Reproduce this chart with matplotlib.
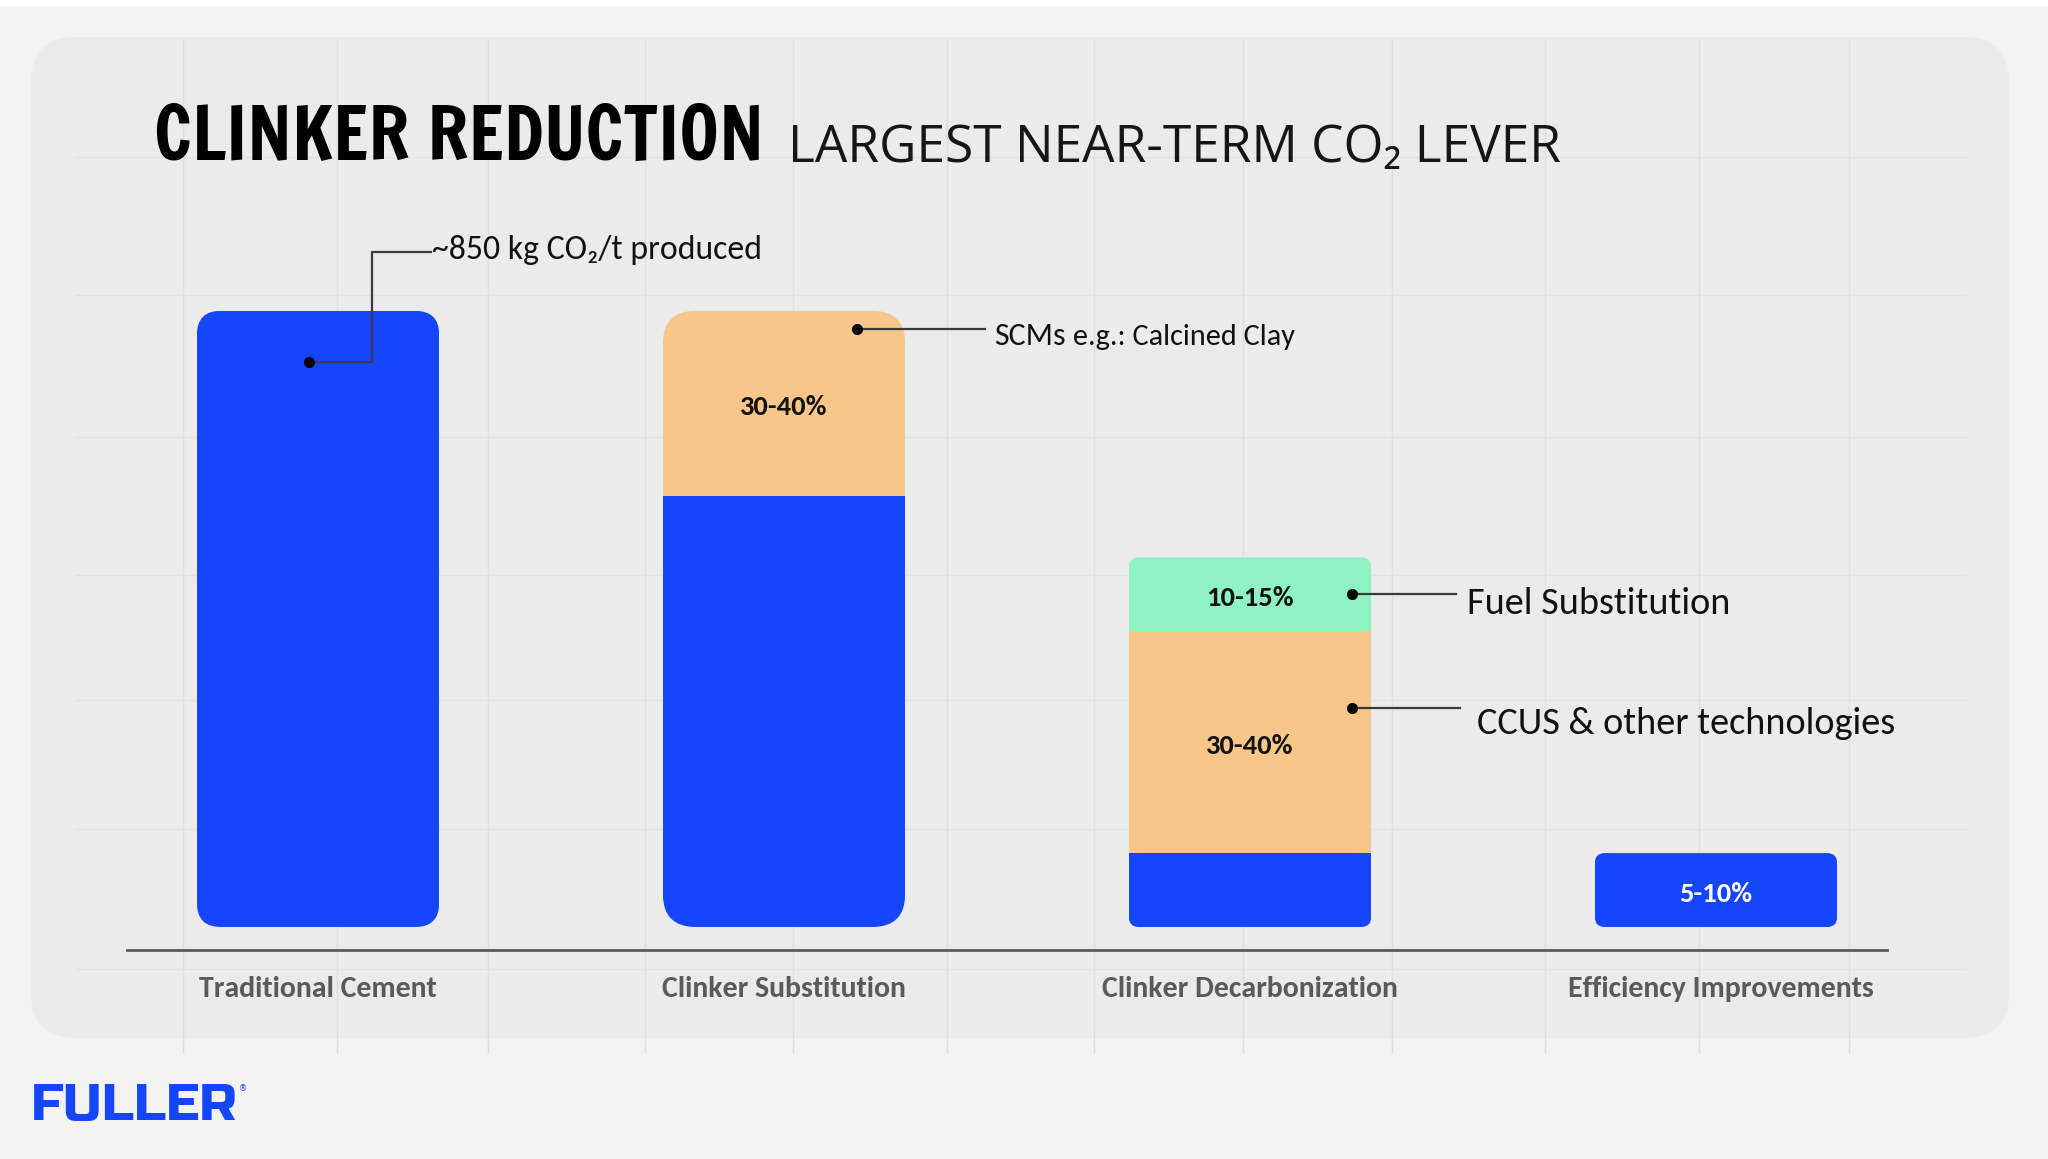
import matplotlib
matplotlib.use('Agg')
import matplotlib.pyplot as plt
from matplotlib.patches import FancyBboxPatch, Rectangle
import numpy as np

# ---------------- data ----------------
categories = ['Traditional Cement', 'Clinker Substitution',
              'Clinker Decarbonization', 'Efficiency Improvements']
clinker = [100, 70, 12, 12]     # blue segment (share of traditional emissions)
scm = [0, 30, 36, 0]            # orange segment
fuel = [0, 0, 12, 0]            # green segment
blue_labels = ['', '', '', '5-10%']
orange_labels = ['', '30-40%', '30-40%', '']
green_labels = ['', '', '10-15%', '']

BLUE = '#1646fb'
ORANGE = '#f8c689'
GREEN = '#8ff2c2'
BODY = ['Carlito', 'Lato', 'DejaVu Sans']

W, H = 2048, 1159
fig = plt.figure(figsize=(W / 100, H / 100), dpi=100, facecolor='#f3f3f4')

# ---------------- background decoration ----------------
bg = fig.add_axes([0, 0, 1, 1], zorder=0)
bg.set_xlim(0, W)
bg.set_ylim(H, 0)
bg.axis('off')
bg.add_patch(Rectangle((0, 0), W, 6, facecolor='white', edgecolor='none'))
bg.add_patch(FancyBboxPatch((31, 37), 1978, 1001,
                            boxstyle='round,pad=0,rounding_size=45',
                            facecolor='#ebebeb', edgecolor='none'))
for gx in [183, 337, 488, 645, 793, 947, 1094, 1243, 1392, 1545, 1699, 1849]:
    bg.plot([gx, gx], [40, 1052], color='#dedede', lw=1, zorder=1)
for gy in [157, 295, 437, 575, 700, 829, 969]:
    bg.plot([75, 1965], [gy, gy], color='#e2e2e2', lw=1, zorder=1)

bg.text(154, 160, 'CLINKER REDUCTION', fontsize=52.5,
        family=['Francois One', 'Anton', 'DejaVu Sans'], color='black',
        va='baseline', ha='left', zorder=3)
bg.text(788, 162, 'LARGEST NEAR-TERM CO₂ LEVER', fontsize=37,
        family=['Open Sans', 'DejaVu Sans'], color='#161616',
        va='baseline', ha='left', zorder=3)

logo = bg.text(31, 1120, 'FULLER', fontsize=37.5,
               family=['Russo One', 'Archivo Black', 'DejaVu Sans'], color=BLUE,
               va='baseline', ha='left', zorder=3)
bg.annotate('®', xy=(1, 1), xycoords=logo, xytext=(1, 0),
            textcoords='offset points', fontsize=6, color=BLUE,
            va='top', ha='left', zorder=3)

# ---------------- main axes ----------------
ax = fig.add_axes([127 / W, 1 - 950 / H, (1887 - 127) / W, (950 - 150) / H],
                  zorder=2)
ax.set_facecolor('none')
x = np.arange(len(categories))
ax.set_xlim(-0.41, 3.367)
ax.set_ylim(-3.73, 126.1)

width = 0.52
b1 = ax.bar(x, clinker, width, color=BLUE, linewidth=0, zorder=3)
b2 = ax.bar(x, scm, width, bottom=clinker, color=ORANGE, linewidth=0, zorder=3)
bottom3 = [c + s for c, s in zip(clinker, scm)]
b3 = ax.bar(x, fuel, width, bottom=bottom3, color=GREEN, linewidth=0, zorder=3)

# rounded outlines of each stack used as clip path
fig.canvas.draw()
p0 = ax.transData.transform((0, 0))
p1 = ax.transData.transform((1, 1))
x_per_px = 1 / (p1[0] - p0[0])
y_per_px = 1 / (p1[1] - p0[1])
aspect = y_per_px / x_per_px
radius_px = [24, 33, 10, 10]
totals = [c + s + f for c, s, f in zip(clinker, scm, fuel)]
for i in range(len(categories)):
    outline = FancyBboxPatch((x[i] - width / 2, 0), width, totals[i],
                             boxstyle=f'round,pad=0,rounding_size={radius_px[i] * x_per_px}',
                             mutation_aspect=aspect, facecolor='none',
                             edgecolor='none', transform=ax.transData)
    ax.add_patch(outline)
    for bars in (b1, b2, b3):
        bars[i].set_clip_path(outline)

# segment labels
SEG = dict(fontsize=20.5, fontweight='bold', family=BODY, ha='center', va='center', zorder=5)
dy = -0.6
for i in range(len(categories)):
    if blue_labels[i]:
        ax.text(x[i], clinker[i] / 2 + dy, blue_labels[i], color='white', **SEG)
    if orange_labels[i]:
        ax.text(x[i], clinker[i] + scm[i] / 2 + dy, orange_labels[i], color='#111111', **SEG)
    if green_labels[i]:
        ax.text(x[i], bottom3[i] + fuel[i] / 2 + dy, green_labels[i], color='#111111', **SEG)

# callouts
LC = '#3a3a3a'
def dot(px, py):
    ax.plot([px], [py], 'o', color='black', markersize=7, zorder=6, clip_on=False)

# Traditional cement
d1 = (x[0] - 0.02, totals[0] - 8.3)
ax.plot([d1[0], x[0] + 0.116, x[0] + 0.116, x[0] + 0.2425],
        [d1[1], d1[1], totals[0] + 9.6, totals[0] + 9.6],
        color=LC, lw=1.6, zorder=5, clip_on=False)
dot(*d1)
ax.text(x[0] + 0.245, totals[0] + 9.8, '~850 kg CO₂/t produced', fontsize=24.3,
        family=BODY, color='#111111', va='center', ha='left', clip_on=False)

# Clinker substitution
d2 = (x[1] + 0.157, totals[1] - 2.9)
ax.plot([d2[0], x[1] + 0.431], [d2[1], d2[1]], color=LC, lw=1.6, zorder=5)
dot(*d2)
t = ax.text(x[1] + 0.451, d2[1] - 1.2, 'SCMs', fontsize=23, family=BODY,
            color='#111111', va='center', ha='left')
ax.annotate(' e.g.: Calcined Clay', xycoords=t, xy=(1, 0), va='bottom',
            ha='left', fontsize=21.8, family=BODY, color='#111111')

# Clinker decarbonization
d3 = (x[2] + 0.219, bottom3[2] + fuel[2] / 2)
ax.plot([d3[0], x[2] + 0.442], [d3[1], d3[1]], color=LC, lw=1.6, zorder=5)
dot(*d3)
ax.text(x[2] + 0.466, d3[1] - 1.5, 'Fuel Substitution', fontsize=27.5,
        family=BODY, color='#111111', va='center', ha='left')
d4 = (x[2] + 0.219, 35.6)
ax.plot([d4[0], x[2] + 0.451], [d4[1], d4[1]], color=LC, lw=1.6, zorder=5)
dot(*d4)
ax.text(x[2] + 0.487, d4[1] - 2.6, 'CCUS & other technologies', fontsize=27.5,
        family=BODY, color='#111111', va='center', ha='left')

# axes styling
for s in ('top', 'left', 'right'):
    ax.spines[s].set_visible(False)
ax.spines['bottom'].set_color('#5a5a5a')
ax.spines['bottom'].set_linewidth(2)
ax.set_yticks([])
ax.set_xticks(x + np.array([0, 0, 0, 0.01]))
ax.set_xticklabels(categories, fontsize=21.5, fontweight='bold', family=BODY,
                   color='#5a5a5a')
ax.tick_params(axis='x', length=0, pad=18.5)

fig.savefig('out.png', dpi=100, facecolor=fig.get_facecolor())
